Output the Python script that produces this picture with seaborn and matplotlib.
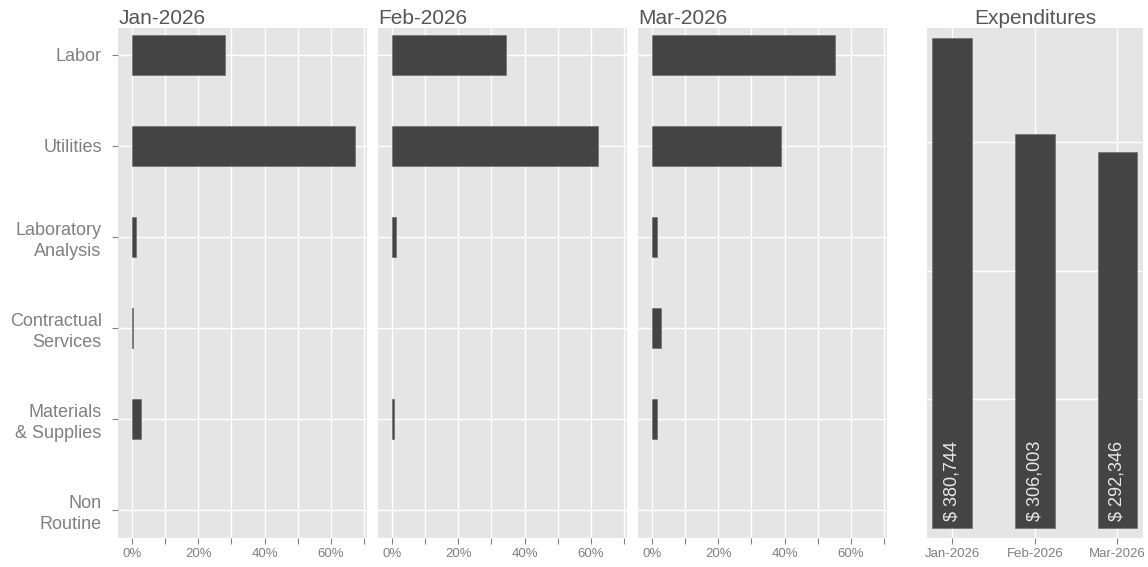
import numpy as np
import pandas as pd
import matplotlib.pyplot as plt
import seaborn as sns

# Data
months = ['Jan-2026', 'Feb-2026', 'Mar-2026']
categories = ['Labor', 'Utilities', 'Laboratory\nAnalysis', 'Contractual\nServices',
              'Materials\n& Supplies', 'Non\nRoutine']
jan_share = [28.0, 67.2, 1.1, 0.2, 2.7, 0.0]
feb_share = [34.5, 62.3, 1.1, 0.0, 0.6, 0.0]
mar_share = [55.1, 38.8, 1.5, 2.7, 1.5, 0.0]
expenditures = [380744, 306003, 292346]

share_df = pd.DataFrame({
    'month': np.repeat(months, len(categories)),
    'category': categories * len(months),
    'share': jan_share + feb_share + mar_share,
})
exp_df = pd.DataFrame({'month': months, 'amount': expenditures})

# Styling (ggplot-like)
bg = '#E5E5E5'
bar_col = '#444444'
tick_col = '#808080'
title_col = '#555555'

sns.set_theme(style='darkgrid', rc={
    'axes.facecolor': bg,
    'grid.color': 'white',
    'grid.linewidth': 1.0,
    'figure.facecolor': 'white',
})
plt.rcParams['font.family'] = ['Liberation Sans', 'DejaVu Sans']

W, H = 1148, 567
fig = plt.figure(figsize=(W / 100, H / 100), dpi=100)

top_px, bot_px = 27.7, 538.0
fb = (H - bot_px) / H
fh = (bot_px - top_px) / H

panel_lefts = [118.3, 378.3, 638.3]
panel_w = 249.0

for k, (m, left) in enumerate(zip(months, panel_lefts)):
    ax = fig.add_axes([left / W, fb, panel_w / W, fh])
    sub = share_df[share_df['month'] == m]
    sns.barplot(data=sub, x='share', y='category', order=categories, orient='h',
                width=0.44, color=bar_col, saturation=1, edgecolor='#707070',
                linewidth=0.5, ax=ax)
    # no outline for empty bars
    for p in ax.patches:
        if p.get_width() == 0:
            p.set_linewidth(0)
    ax.set_xlim(-4.1, 71.0)
    ax.set_ylim(5.31, -0.30)
    ax.set_xticks(range(0, 80, 10))
    ax.set_xticklabels(['0%', '', '20%', '', '40%', '', '60%', ''])
    ax.grid(True, color='white', linewidth=1.0)
    ax.set_axisbelow(True)
    for s in ax.spines.values():
        s.set_visible(False)
    ax.tick_params(axis='x', colors=tick_col, labelsize=9.5, length=4, width=0.8,
                   pad=3, bottom=True)
    if k == 0:
        ax.tick_params(axis='y', colors=tick_col, labelsize=13, length=4, width=0.8,
                       pad=8, left=True)
        for lbl in ax.get_yticklabels():
            lbl.set_multialignment('right')
            lbl.set_linespacing(1.3)
    else:
        ax.tick_params(axis='y', left=False, labelleft=False)
    ax.set_xlabel('')
    ax.set_ylabel('')
    ax.set_title(m, loc='left', fontsize=15, color=title_col, pad=3)

# Expenditures panel
ax4 = fig.add_axes([926.7 / W, fb, (1143.3 - 926.7) / W, fh])
sns.barplot(data=exp_df, x='month', y='amount', order=months, width=0.48,
            color=bar_col, saturation=1, edgecolor='#707070', linewidth=0.5, ax=ax4)
ax4.set_xlim(-0.31, 2.315)
ax4.set_ylim(-8000, 389000)
ax4.set_yticks([100000, 200000, 300000])
ax4.set_yticklabels([])
ax4.grid(True, color='white', linewidth=1.0)
ax4.set_axisbelow(True)
for s in ax4.spines.values():
    s.set_visible(False)
ax4.tick_params(axis='y', left=False, length=0)
ax4.tick_params(axis='x', colors=tick_col, labelsize=9.5, length=4, width=0.8,
                pad=3, bottom=True)
ax4.set_xlabel('')
ax4.set_ylabel('')
ax4.set_title('Expenditures', fontsize=15, color=title_col, pad=3)

for i, v in enumerate(expenditures):
    ax4.annotate(f'$ {v:,}', xy=(i, 0), xytext=(0, 5), textcoords='offset points',
                 rotation=90, ha='center', va='bottom', color='#E8E8E8', fontsize=13)

fig.savefig('out.png', dpi=100)
